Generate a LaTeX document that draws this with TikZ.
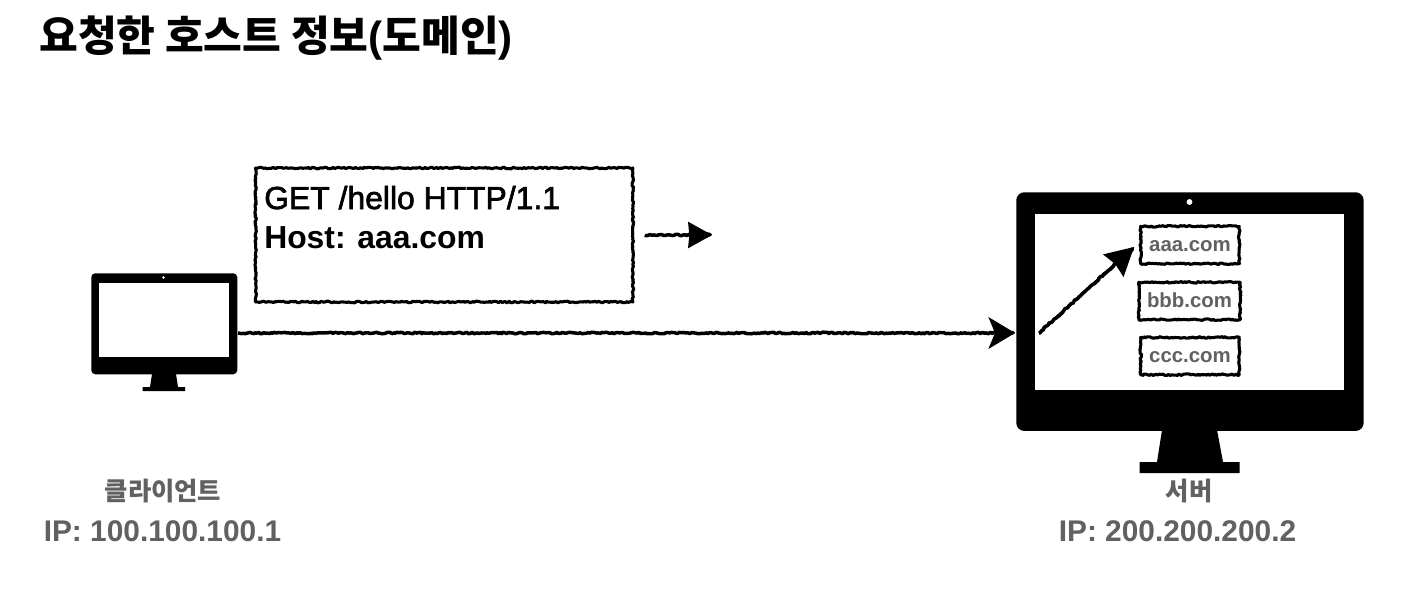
\documentclass[tikz,border=0pt]{standalone}
\usepackage{fontspec}
\setmainfont{Liberation Sans}
\newfontfamily\cjk{Noto Sans CJK KR}
\newfontfamily\medium[FakeBold=2]{Liberation Sans}
\usetikzlibrary{arrows.meta,decorations.pathmorphing}
\definecolor{labelgray}{gray}{0.38}
\newcommand{\fs}[1]{\fontsize{#1}{#1}\selectfont}
\tikzset{
  x=0.75pt,y=-0.75pt,
  rough/.style={decorate,decoration={random steps,segment length=1.3pt,amplitude=0.6pt}},
  handbox/.style={draw=black,line width=2.3pt,line join=round,rough,inner sep=0pt,anchor=center,fill=white},
  sitebox/.style={handbox,minimum width=74pt,minimum height=28pt,text=labelgray,font=\fs{15.3}\bfseries,text depth=0pt,text height=9pt},
  handline/.style={draw,line width=2.6pt,line join=round,rough,shorten >=8pt},
  handarrow/.style={line width=2pt,line join=round},
  solid black/.style={fill=black,draw=none},
  screen/.style={fill=white,draw=none},
  graylabel/.style={text=labelgray,anchor=center,inner sep=0pt,font=\bfseries},
  txt/.style={anchor=base west,inner sep=0pt},
  bezel/.style={fill=black,draw=none,rounded corners=#1,inner sep=0pt,anchor=north west}
}
\begin{document}
\begin{tikzpicture}
\pgfmathsetseed{7}
\useasboundingbox (0,0) rectangle (1408,614);
\fill[white] (0,0) rectangle (1408,614);

% title
\node[txt] (title) at (39,51) {\fs{31.6}\bfseries\cjk 요청한 호스트 정보\rmfamily\bfseries(\cjk 도메인\rmfamily\bfseries)};

% client monitor
\node[bezel=3pt,minimum width=109.5pt,minimum height=75.75pt] (client) at (91,273) {};
\fill[solid black] (152,374) -- (176,374) -- (178,387) -- (185,387) -- (185,391) -- (142.5,391) -- (142.5,387) -- (150,387) -- cycle;
\fill[screen] (99,283) rectangle (229,357);
\fill[white] (163.5,277.5) circle[radius=1.1pt];

% server monitor
\node[bezel=6pt,minimum width=260.5pt,minimum height=179pt] (server) at (1016,192) {};
\fill[solid black] (1162,430) -- (1217,430) -- (1223,462) -- (1239.5,462) -- (1239.5,473) -- (1139.5,473) -- (1139.5,462) -- (1157,462) -- cycle;
\fill[screen] (1035,214) rectangle (1344,390);
\fill[white] (1189.5,202) circle[radius=2.2pt];

% message box
\node[handbox,minimum width=283pt,minimum height=100.5pt] (msg) at (444.25,235) {};
\node[txt] (msgline1) at (264,209) {\fs{23.9}\medium GET /hello HTTP/1.1};
\node[txt] (msgline2) at (264,248) {\fs{23.9}\bfseries Host: aaa.com};

% domain boxes
\node[sitebox] (aaa) at (1190,245) {aaa.com};
\node[sitebox,minimum width=76pt] (bbb) at (1189.5,301) {bbb.com};
\node[sitebox] (ccc) at (1190,356) {ccc.com};

% arrows
\coordinate (reqstart) at (238,333);
\coordinate (reqend) at (1015,333);
\draw[handline] (reqstart) -- (reqend);
\draw[handarrow,-{Stealth[length=20pt,width=24pt,inset=5pt,line width=0pt]}] (reqstart) -- (reqend);
\coordinate (dirstart) at (645,235);
\coordinate (dirend) at (712,235);
\draw[handline] (dirstart) -- (dirend);
\draw[handarrow,-{Stealth[length=18pt,width=20pt,inset=1pt,line width=0pt]}] (dirstart) -- (dirend);
\coordinate (hoststart) at (1039,333);
\coordinate (hostend) at (1134,247);
\draw[handline] (hoststart) -- (hostend);
\draw[handarrow,-{Stealth[length=21pt,width=23pt,inset=2pt,line width=0pt]}] (hoststart) -- (hostend);

% labels
\node[graylabel] (clientname) at (163,491) {\fs{19}\cjk\bfseries 클라이언트};
\node[graylabel] (clientip) at (162.5,531) {\fs{22.4}IP: 100.100.100.1};
\node[graylabel] (servername) at (1189,491) {\fs{19}\cjk\bfseries 서버};
\node[graylabel] (serverip) at (1177.5,531) {\fs{22.4}IP: 200.200.200.2};
\end{tikzpicture}
\end{document}
